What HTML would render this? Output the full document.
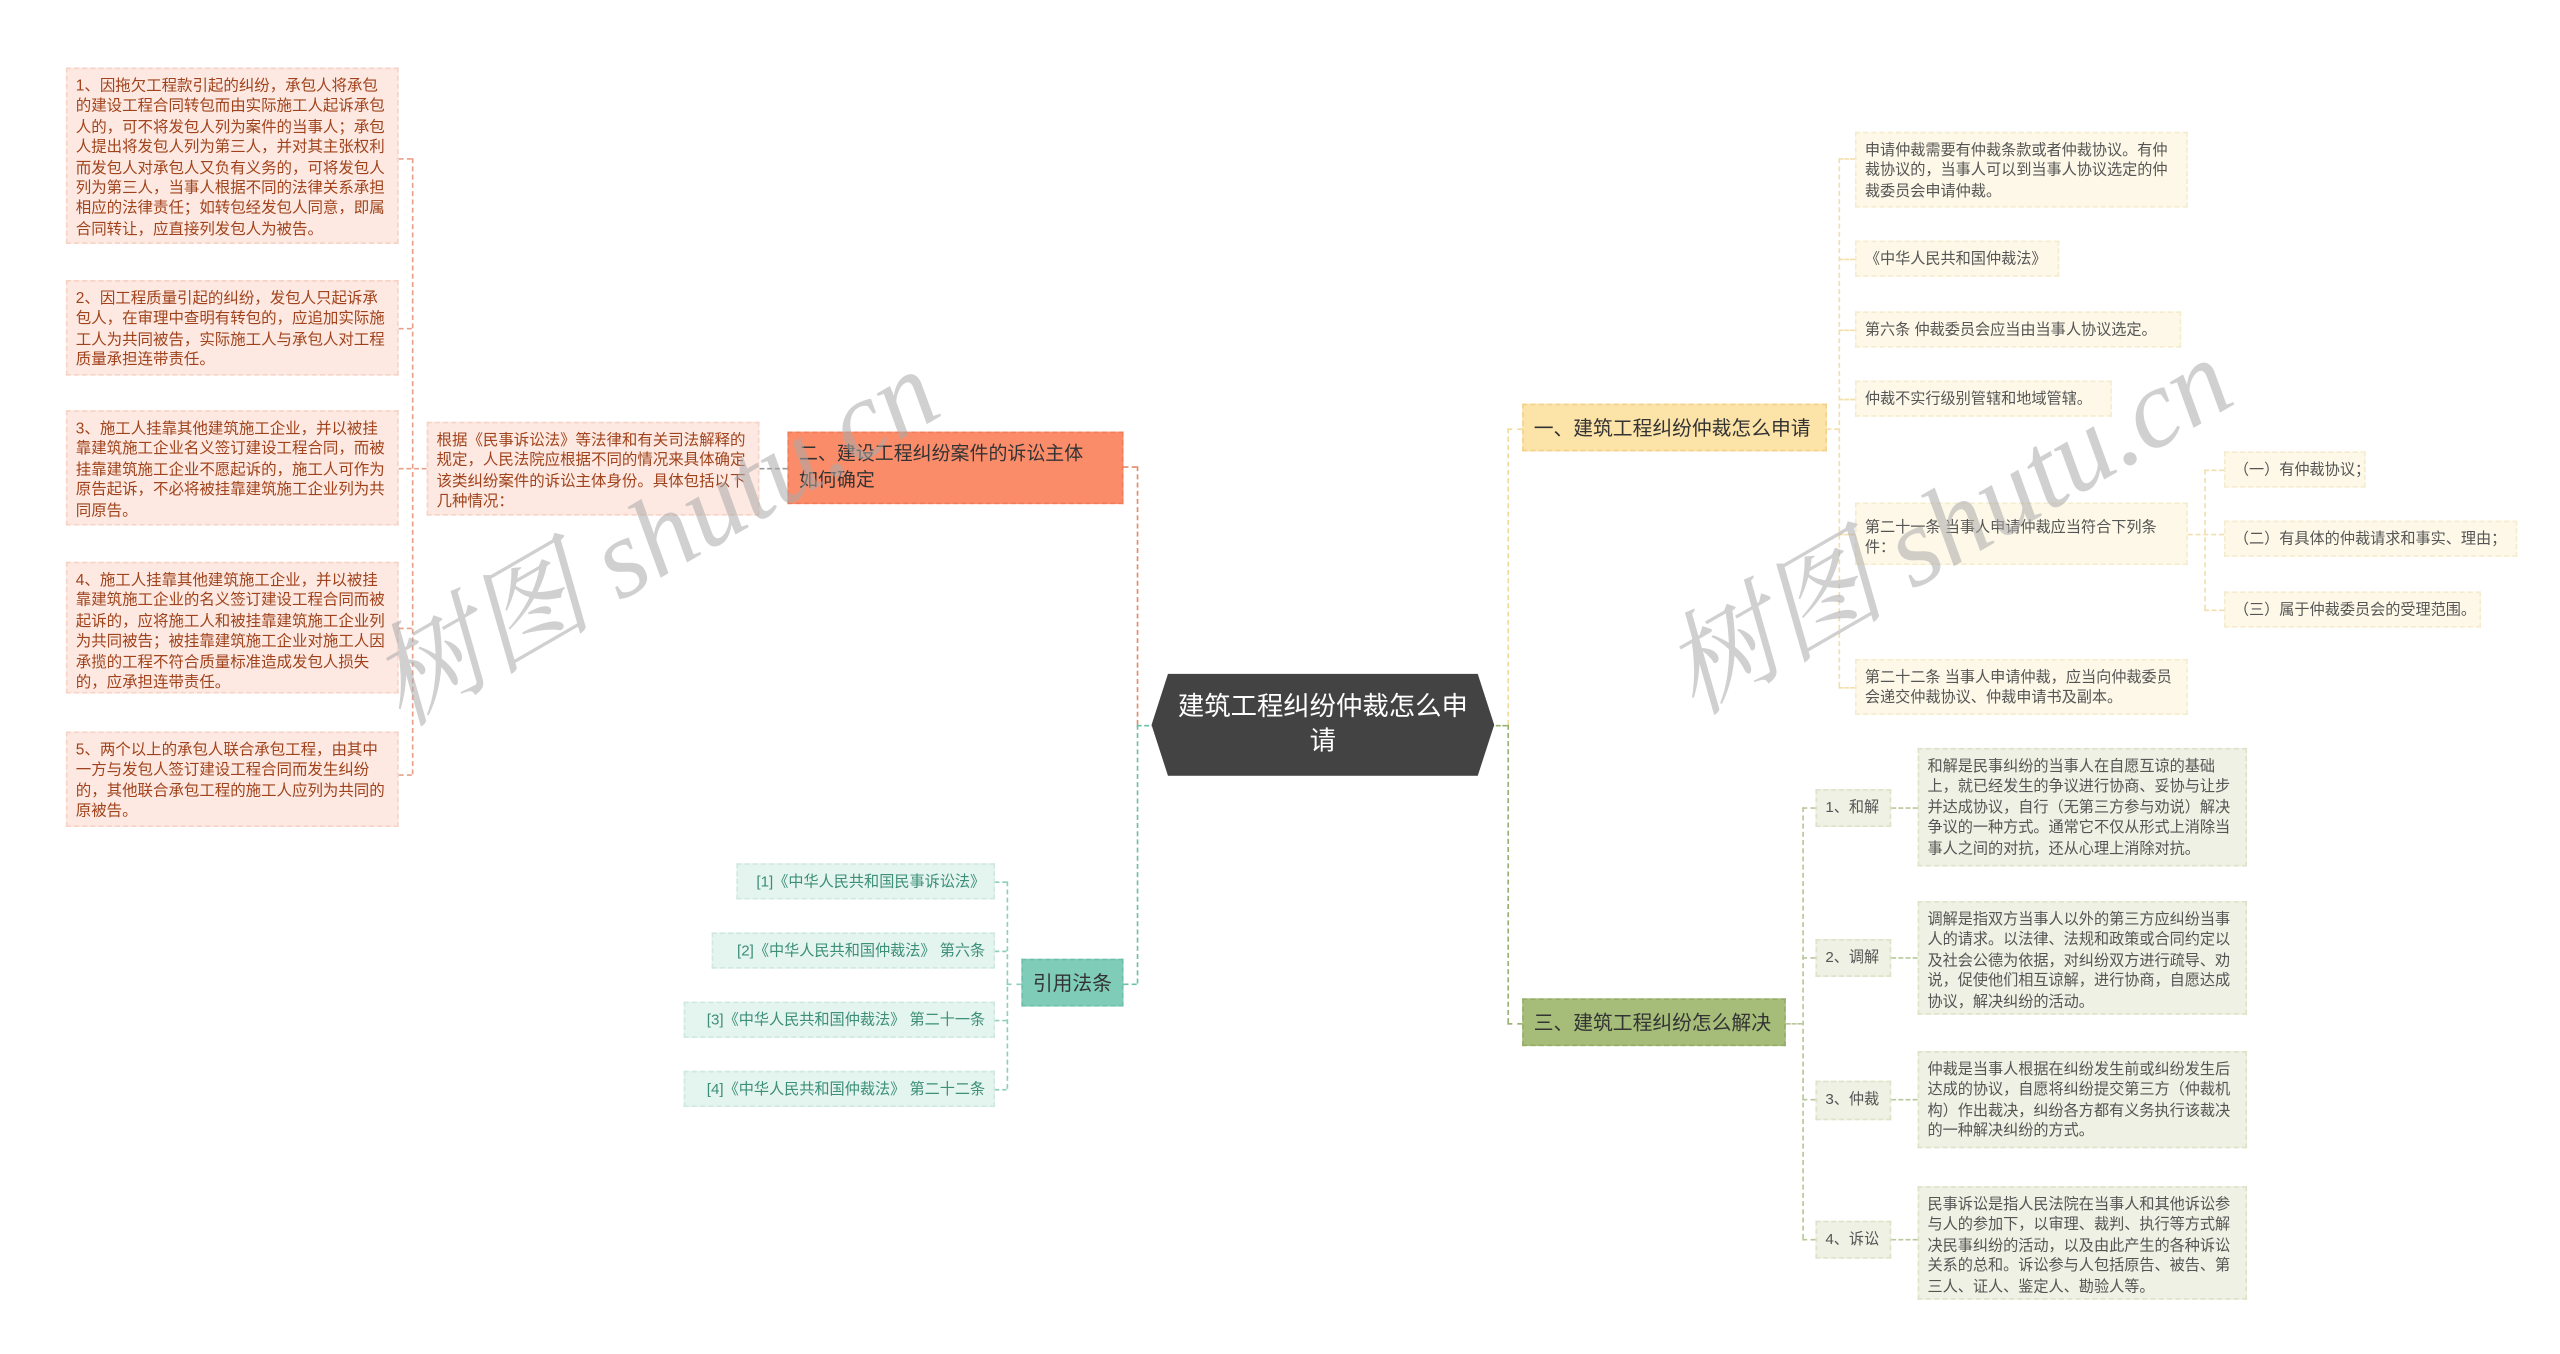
<!DOCTYPE html>
<html><head><meta charset="utf-8">
<style>
html,body{margin:0;padding:0;background:#fff;width:2560px;height:1354px;overflow:hidden}
#w{position:absolute;left:0;top:0;width:1554px;height:822px;transform:scale(1.6474);transform-origin:0 0;font-family:"Liberation Sans","Noto Sans CJK SC",sans-serif;overflow:hidden}
.b{position:absolute;box-sizing:border-box;font-size:9.2px;line-height:12.4px;padding:4px 5px}
.l{background:#fde9e2;color:#a0431c;border:1px dashed #f6d3c6;font-size:9.4px}
.c{background:#e4f4ee;color:#3d8f78;border:1px dashed #cfe9df;text-align:right;white-space:nowrap}
.y{background:#fdf8e8;color:#555;border:1px dashed #f5ecd0}
.g{background:#eef1e3;color:#555;border:1px dashed #dde3c8}
.nw{white-space:nowrap}
.n{position:absolute;box-sizing:border-box;font-size:12px;line-height:16px;color:#333}
.ln{position:absolute;border-style:dashed;border-width:0}
.wm{position:absolute;font-size:68px;color:rgba(170,170,170,.55);font-family:"Liberation Serif","Noto Serif CJK SC",serif;font-style:italic;transform:rotate(-30deg);white-space:nowrap;transform-origin:0 0}
</style></head><body><div id="w">

<div class="ln" style="left:690px;top:283px;height:157px;border-left-width:1px;border-color:#e5896a"></div>
<div class="ln" style="left:682px;top:283px;width:8px;border-top-width:1px;border-color:#e5896a"></div>
<div class="ln" style="left:690px;top:440px;height:157px;border-left-width:1px;border-color:#6fbfa8"></div>
<div class="ln" style="left:690px;top:440px;width:12px;border-top-width:1px;border-color:#6fbfa8"></div>
<div class="ln" style="left:682px;top:597px;width:8px;border-top-width:1px;border-color:#6fbfa8"></div>
<div class="ln" style="left:461px;top:284px;width:17px;border-top-width:1px;border-color:#999"></div>
<div class="ln" style="left:250px;top:96px;height:374px;border-left-width:1px;border-color:#e8a088"></div>
<div class="ln" style="left:242px;top:96px;width:8px;border-top-width:1px;border-color:#e8a088"></div>
<div class="ln" style="left:242px;top:199px;width:8px;border-top-width:1px;border-color:#e8a088"></div>
<div class="ln" style="left:242px;top:284px;width:17px;border-top-width:1px;border-color:#e8a088"></div>
<div class="ln" style="left:242px;top:381px;width:8px;border-top-width:1px;border-color:#e8a088"></div>
<div class="ln" style="left:242px;top:470px;width:8px;border-top-width:1px;border-color:#e8a088"></div>
<div class="ln" style="left:611px;top:535px;height:126px;border-left-width:1px;border-color:#8fd0bd"></div>
<div class="ln" style="left:604px;top:535px;width:7px;border-top-width:1px;border-color:#8fd0bd"></div>
<div class="ln" style="left:604px;top:577px;width:7px;border-top-width:1px;border-color:#8fd0bd"></div>
<div class="ln" style="left:604px;top:619px;width:7px;border-top-width:1px;border-color:#8fd0bd"></div>
<div class="ln" style="left:604px;top:661px;width:7px;border-top-width:1px;border-color:#8fd0bd"></div>
<div class="ln" style="left:611px;top:597px;width:9px;border-top-width:1px;border-color:#8fd0bd"></div>

<div class="ln" style="left:915px;top:260px;height:180px;border-left-width:1px;border-color:#eedd9a"></div>
<div class="ln" style="left:915px;top:440px;height:181px;border-left-width:1px;border-color:#98b070"></div>
<div class="ln" style="left:904px;top:440px;width:11px;border-top-width:1px;border-color:#98b070"></div>
<div class="ln" style="left:915px;top:260px;width:9px;border-top-width:1px;border-color:#eedd9a"></div>
<div class="ln" style="left:915px;top:621px;width:9px;border-top-width:1px;border-color:#98b070"></div>
<div class="ln" style="left:1116px;top:96px;height:321px;border-left-width:1px;border-color:#f3dfae"></div>
<div class="ln" style="left:1109px;top:260px;width:7px;border-top-width:1px;border-color:#f3dfae"></div>
<div class="ln" style="left:1116px;top:96px;width:10px;border-top-width:1px;border-color:#f3dfae"></div>
<div class="ln" style="left:1116px;top:157px;width:10px;border-top-width:1px;border-color:#f3dfae"></div>
<div class="ln" style="left:1116px;top:200px;width:10px;border-top-width:1px;border-color:#f3dfae"></div>
<div class="ln" style="left:1116px;top:242px;width:10px;border-top-width:1px;border-color:#f3dfae"></div>
<div class="ln" style="left:1116px;top:324px;width:10px;border-top-width:1px;border-color:#f3dfae"></div>
<div class="ln" style="left:1116px;top:417px;width:10px;border-top-width:1px;border-color:#f3dfae"></div>
<div class="ln" style="left:1338px;top:285px;height:85px;border-left-width:1px;border-color:#f3dfae"></div>
<div class="ln" style="left:1328px;top:324px;width:22px;border-top-width:1px;border-color:#f3dfae"></div>
<div class="ln" style="left:1338px;top:285px;width:12px;border-top-width:1px;border-color:#f3dfae"></div>
<div class="ln" style="left:1338px;top:370px;width:12px;border-top-width:1px;border-color:#f3dfae"></div>
<div class="ln" style="left:1094px;top:490px;height:262px;border-left-width:1px;border-color:#b9c79a"></div>
<div class="ln" style="left:1084px;top:621px;width:10px;border-top-width:1px;border-color:#b9c79a"></div>
<div class="ln" style="left:1094px;top:490px;width:8px;border-top-width:1px;border-color:#b9c79a"></div>
<div class="ln" style="left:1094px;top:581px;width:8px;border-top-width:1px;border-color:#b9c79a"></div>
<div class="ln" style="left:1094px;top:667px;width:8px;border-top-width:1px;border-color:#b9c79a"></div>
<div class="ln" style="left:1094px;top:752px;width:8px;border-top-width:1px;border-color:#b9c79a"></div>
<div class="ln" style="left:1148px;top:490px;width:16px;border-top-width:1px;border-color:#b9c79a"></div>
<div class="ln" style="left:1148px;top:581px;width:16px;border-top-width:1px;border-color:#b9c79a"></div>
<div class="ln" style="left:1148px;top:667px;width:16px;border-top-width:1px;border-color:#b9c79a"></div>
<div class="ln" style="left:1148px;top:752px;width:16px;border-top-width:1px;border-color:#b9c79a"></div>

<svg style="position:absolute;left:699px;top:409px" width="208" height="62"><polygon points="10,0 198,0 208,31 198,62 10,62 0,31" fill="#434343"/></svg>
<div class="n" style="left:712px;top:419px;width:182px;text-align:center;color:#fff;font-size:16px;line-height:21px">建筑工程纠纷仲裁怎么申请</div>

<div class="n" style="left:478px;top:262px;width:204px;height:44px;background:#fa8c6a;border:1px dashed #f07c5a;padding:5px 6px;font-size:11.5px;line-height:16px">二、建设工程纠纷案件的诉讼主体<br>如何确定</div>
<div class="b l" style="left:259px;top:256px;width:202px;height:57px">根据《民事诉讼法》等法律和有关司法解释的规定，人民法院应根据不同的情况来具体确定该类纠纷案件的诉讼主体身份。具体包括以下几种情况：</div>
<div class="b l" style="left:40px;top:41px;width:202px;height:107px">1、因拖欠工程款引起的纠纷，承包人将承包的建设工程合同转包而由实际施工人起诉承包人的，可不将发包人列为案件的当事人；承包人提出将发包人列为第三人，并对其主张权利而发包人对承包人又负有义务的，可将发包人列为第三人，当事人根据不同的法律关系承担相应的法律责任；如转包经发包人同意，即属合同转让，应直接列发包人为被告。</div>
<div class="b l" style="left:40px;top:170px;width:202px;height:58px">2、因工程质量引起的纠纷，发包人只起诉承包人，在审理中查明有转包的，应追加实际施工人为共同被告，实际施工人与承包人对工程质量承担连带责任。</div>
<div class="b l" style="left:40px;top:249px;width:202px;height:70px">3、施工人挂靠其他建筑施工企业，并以被挂靠建筑施工企业名义签订建设工程合同，而被挂靠建筑施工企业不愿起诉的，施工人可作为原告起诉，不必将被挂靠建筑施工企业列为共同原告。</div>
<div class="b l" style="left:40px;top:341px;width:202px;height:80px">4、施工人挂靠其他建筑施工企业，并以被挂靠建筑施工企业的名义签订建设工程合同而被起诉的，应将施工人和被挂靠建筑施工企业列为共同被告；被挂靠建筑施工企业对施工人因承揽的工程不符合质量标准造成发包人损失的，应承担连带责任。</div>
<div class="b l" style="left:40px;top:444px;width:202px;height:58px">5、两个以上的承包人联合承包工程，由其中一方与发包人签订建设工程合同而发生纠纷的，其他联合承包工程的施工人应列为共同的原被告。</div>

<div class="n nw" style="left:620px;top:582px;width:62px;height:29px;background:#7fcdb8;border:1px dashed #6cbfa8;text-align:center;padding-top:6px">引用法条</div>
<div class="b c" style="left:447px;top:524px;width:157px;height:22px">[1]《中华人民共和国民事诉讼法》</div>
<div class="b c" style="left:432px;top:566px;width:172px;height:22px">[2]《中华人民共和国仲裁法》 第六条</div>
<div class="b c" style="left:415px;top:608px;width:189px;height:22px">[3]《中华人民共和国仲裁法》 第二十一条</div>
<div class="b c" style="left:415px;top:650px;width:189px;height:22px">[4]《中华人民共和国仲裁法》 第二十二条</div>

<div class="n nw" style="left:924px;top:245px;width:185px;height:29px;background:#fce3a8;border:1px dashed #f2d28a;padding:6px 6px">一、建筑工程纠纷仲裁怎么申请</div>
<div class="b y" style="left:1126px;top:80px;width:202px;height:46px">申请仲裁需要有仲裁条款或者仲裁协议。有仲裁协议的，当事人可以到当事人协议选定的仲裁委员会申请仲裁。</div>
<div class="b y nw" style="left:1126px;top:146px;width:124px;height:22px">《中华人民共和国仲裁法》</div>
<div class="b y nw" style="left:1126px;top:189px;width:198px;height:22px">第六条 仲裁委员会应当由当事人协议选定。</div>
<div class="b y nw" style="left:1126px;top:231px;width:156px;height:22px">仲裁不实行级别管辖和地域管辖。</div>
<div class="b y" style="left:1126px;top:305px;width:202px;height:38px;padding-top:8px">第二十一条 当事人申请仲裁应当符合下列条件：</div>
<div class="b y nw" style="left:1350px;top:274px;width:86px;height:22px">（一）有仲裁协议；</div>
<div class="b y nw" style="left:1350px;top:316px;width:178px;height:22px">（二）有具体的仲裁请求和事实、理由；</div>
<div class="b y nw" style="left:1350px;top:359px;width:156px;height:22px">（三）属于仲裁委员会的受理范围。</div>
<div class="b y" style="left:1126px;top:400px;width:202px;height:34px">第二十二条 当事人申请仲裁，应当向仲裁委员会递交仲裁协议、仲裁申请书及副本。</div>

<div class="n nw" style="left:924px;top:606px;width:160px;height:29px;background:#a6bd7a;border:1px dashed #95ad68;padding:6px 6px">三、建筑工程纠纷怎么解决</div>
<div class="b g nw" style="left:1102px;top:479px;width:46px;height:23px">1、和解</div>
<div class="b g nw" style="left:1102px;top:570px;width:46px;height:23px">2、调解</div>
<div class="b g nw" style="left:1102px;top:656px;width:46px;height:24px">3、仲裁</div>
<div class="b g nw" style="left:1102px;top:741px;width:46px;height:23px">4、诉讼</div>
<div class="b g" style="left:1164px;top:454px;width:200px;height:72px">和解是民事纠纷的当事人在自愿互谅的基础上，就已经发生的争议进行协商、妥协与让步并达成协议，自行（无第三方参与劝说）解决争议的一种方式。通常它不仅从形式上消除当事人之间的对抗，还从心理上消除对抗。</div>
<div class="b g" style="left:1164px;top:547px;width:200px;height:69px">调解是指双方当事人以外的第三方应纠纷当事人的请求。以法律、法规和政策或合同约定以及社会公德为依据，对纠纷双方进行疏导、劝说，促使他们相互谅解，进行协商，自愿达成协议，解决纠纷的活动。</div>
<div class="b g" style="left:1164px;top:638px;width:200px;height:59px">仲裁是当事人根据在纠纷发生前或纠纷发生后达成的协议，自愿将纠纷提交第三方（仲裁机构）作出裁决，纠纷各方都有义务执行该裁决的一种解决纠纷的方式。</div>
<div class="b g" style="left:1164px;top:720px;width:200px;height:69px">民事诉讼是指人民法院在当事人和其他诉讼参与人的参加下，以审理、裁判、执行等方式解决民事纠纷的活动，以及由此产生的各种诉讼关系的总和。诉讼参与人包括原告、被告、第三人、证人、鉴定人、勘验人等。</div>

<div class="wm" style="left:205px;top:375px">树图 shutu.cn</div>
<div class="wm" style="left:990px;top:368px">树图 shutu.cn</div>
</div></body></html>
